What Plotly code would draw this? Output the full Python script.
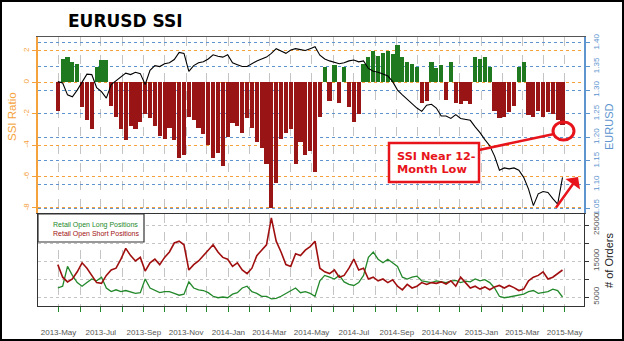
import plotly.graph_objects as go
import pandas as pd

W, H = 624, 341
def px(x): return x / W
def py(y): return 1 - y / H

# ---------------- data (weekly readings) ----------------
week_dates = pd.date_range('2013-04-30', periods=105, freq='7D')

ssi = [-1.8, 1.5, 1.6, 1.3, 1.2, -1.6, -2.4, -3.0, 1.0, 1.4,
       1.4, -1.5, -2.2, -3.0, -3.7, -2.8, -3.0, -2.5, -2.0, -2.3,
       -2.8, -3.4, -3.6, -2.9, -3.7, -4.8, -4.6, -2.2, -2.4, -2.9,
       -3.3, -4.0, -4.8, -4.5, -5.3, -3.5, -2.6, -2.8, -3.2, -2.3,
       -2.9, -3.8, -4.2, -5.2, -8.0, -6.4, -3.6, -3.2, -3.0, -5.2,
       -3.8, -4.6, -4.4, -5.7, -2.2, 1.0, -1.2, 1.1, -1.3, 1.0,
       -1.6, -2.5, -2.0, 1.2, 1.6, 2.0, 1.7, 1.9, 2.0, 1.8,
       2.4, 1.6, 1.3, 1.2, 1.0, -1.3, -1.2, 1.3, 0.9, 1.1,
       -1.1, 1.3, -1.3, -1.4, -1.2, -1.4, 1.6, 1.5, 1.6, 1.0,
       -1.8, -2.3, -2.2, -1.9, -1.5, 1.0, 1.3, -2.1, -2.2, -1.8,
       -2.2, -1.9, -2.0, -2.4, -2.7]

eurusd = [1.318, 1.315, 1.290, 1.286, 1.300, 1.318, 1.334, 1.333, 1.305, 1.297,
          1.283, 1.312, 1.320, 1.328, 1.336, 1.333, 1.338, 1.335, 1.312, 1.342,
          1.352, 1.350, 1.356, 1.358, 1.365, 1.380, 1.378, 1.340, 1.352, 1.358,
          1.360, 1.366, 1.375, 1.372, 1.370, 1.375, 1.358, 1.354, 1.350, 1.350,
          1.356, 1.362, 1.366, 1.370, 1.378, 1.388, 1.383, 1.378, 1.385, 1.388,
          1.386, 1.384, 1.388, 1.392, 1.374, 1.366, 1.362, 1.359, 1.356, 1.358,
          1.362, 1.364, 1.360, 1.362, 1.346, 1.340, 1.338, 1.334, 1.330, 1.318,
          1.300, 1.290, 1.280, 1.272, 1.262, 1.255, 1.268, 1.270, 1.262, 1.245,
          1.245, 1.240, 1.248, 1.240, 1.238, 1.236, 1.222, 1.210, 1.195, 1.182,
          1.160, 1.130, 1.135, 1.133, 1.135, 1.130, 1.115, 1.090, 1.055, 1.080,
          1.085, 1.083, 1.070, 1.058, 1.115]

short_pos = [14000, 10500, 9200, 10000, 12000, 14500, 13000, 11000, 9000, 8800,
             11000, 12500, 13000, 15500, 18500, 16500, 15000, 16000, 12200, 14500,
             15500, 14000, 16000, 17500, 20000, 20500, 19500, 12500, 14000, 15000,
             16500, 18000, 19500, 17500, 16000, 15500, 13500, 14500, 12500, 11500,
             13000, 16500, 18000, 19500, 27000, 20500, 17500, 14000, 13500, 17000,
             16500, 18000, 19000, 20500, 13000, 12000, 11500, 12500, 10500, 11000,
             13000, 15500, 12500, 13000, 10000, 10500, 9500, 10000, 9000, 9800,
             8000, 7000, 8500, 7500, 8000, 9000, 8500, 9000, 8800, 9200,
             8600, 9500, 8000, 10500, 9000, 7500, 8000, 7200, 7800, 7000,
             7800, 8200, 7500, 8200, 7600, 6800, 7200, 9500, 10500, 11000,
             12000, 10000, 10500, 11500, 12500]

long_pos = [7500, 8000, 13500, 11000, 9000, 8000, 9000, 10000, 9500, 10500,
            7500, 6500, 7000, 6500, 6800, 6500, 6000, 6200, 10000, 7500,
            6800, 6200, 6500, 6500, 6000, 5500, 5800, 9200, 7500, 7000,
            6800, 6200, 5200, 4800, 5000, 4800, 5800, 6200, 7500, 8000,
            6500, 6000, 5200, 5200, 4500, 4600, 5200, 6000, 6800, 7500,
            6200, 6500, 6000, 5200, 9500, 11000, 10500, 10000, 11000, 9200,
            8500, 8200, 9000, 11000, 16000, 17500, 15500, 14500, 15500, 14500,
            13500, 10500, 10000, 10500, 10800, 9500, 9200, 9000, 9500, 9200,
            9000, 9400, 9600, 9000, 9400, 9200, 10000, 9500, 9800, 9000,
            7500, 5200, 4800, 5000, 5300, 5600, 5800, 6500, 6800, 6000,
            6200, 6500, 7200, 6800, 5000]

ssi_ticks = [-8, -6, -4, -2, 0, 2]
eur_ticks = [1.05, 1.10, 1.15, 1.20, 1.25, 1.30, 1.35, 1.40]
order_ticks = [5000, 10000, 15000, 20000, 25000]
order_labels = ['5000', '', '15000', '', '25000']
month_ticks = pd.date_range('2013-05-01', '2015-05-01', freq='MS')
month_labels = [d.strftime('%Y-%b') if (i % 2 == 0) else '' for i, d in enumerate(month_ticks)]

# ---------------- styling ----------------
ORANGE = '#F6A23C'
BLUE = '#5E95CF'
RED_BAR = '#991414'
GREEN_BAR = '#1F7A1F'
RED_LINE = '#A00F0F'
GREEN_LINE = '#22882A'
GRID = '#C4C4C4'
XRANGE = ['2013-04-01 10:00', '2015-05-29']
XDOM = [px(38), px(584)]

fig = go.Figure()

bar_colors = [GREEN_BAR if v >= 0 else RED_BAR for v in ssi]
fig.add_trace(go.Bar(x=week_dates, y=ssi, marker_color=bar_colors,
                     marker_line_width=0, width=6.0 * 24 * 3600 * 1000,
                     xaxis='x', yaxis='y', showlegend=False))
fig.add_trace(go.Scatter(x=week_dates, y=eurusd, mode='lines',
                         line=dict(color='black', width=1.1),
                         xaxis='x', yaxis='y2', showlegend=False))
fig.add_trace(go.Scatter(x=week_dates, y=long_pos, mode='lines',
                         line=dict(color=GREEN_LINE, width=1.3),
                         xaxis='x2', yaxis='y3', showlegend=False))
fig.add_trace(go.Scatter(x=week_dates, y=short_pos, mode='lines',
                         line=dict(color=RED_LINE, width=1.6),
                         xaxis='x2', yaxis='y3', showlegend=False))

tickfont_gray = dict(family='Liberation Sans', size=8, color='#555555')

fig.update_layout(
    width=W, height=H, margin=dict(l=0, r=0, t=0, b=0),
    paper_bgcolor='white', plot_bgcolor='white', bargap=0,
    xaxis=dict(domain=XDOM, anchor='y', range=XRANGE, type='date',
               tickmode='array', tickvals=month_ticks, showticklabels=False,
               ticks='', showgrid=True, gridcolor=GRID, griddash='dash', gridwidth=1,
               showline=True, mirror=True, linecolor='#555555', linewidth=1,
               zeroline=False, automargin=False),
    yaxis=dict(domain=[py(213), py(37)], anchor='x', range=[-8.32, 2.89],
               tickmode='array', tickvals=ssi_ticks, ticktext=[str(t) for t in ssi_ticks],
               tickangle=-90, tickfont=dict(family='Liberation Sans', size=8, color=ORANGE),
               ticks='outside', ticklen=4, tickcolor=ORANGE,
               showline=True, linecolor=ORANGE, linewidth=1.5,
               showgrid=True, gridcolor=ORANGE, griddash='dot', gridwidth=1.2,
               zeroline=False, automargin=False),
    yaxis2=dict(overlaying='y', side='right', anchor='x', range=[1.0394, 1.4127],
                tickmode='array', tickvals=eur_ticks, ticktext=['%.2f' % t for t in eur_ticks],
                tickangle=-90, tickfont=dict(family='Liberation Sans', size=8, color=BLUE),
                ticks='outside', ticklen=4, tickcolor=BLUE,
                showline=True, linecolor=BLUE, linewidth=1.5,
                showgrid=True, gridcolor=BLUE, griddash='dot', gridwidth=1.2,
                zeroline=False, automargin=False),
    xaxis2=dict(domain=XDOM, anchor='y3', range=XRANGE, type='date',
                tickmode='array', tickvals=month_ticks, ticktext=month_labels,
                tickfont=tickfont_gray, tickangle=0,
                ticks='outside', ticklen=5, tickcolor=GREEN_LINE, tickwidth=1,
                ticklabelstandoff=13,
                showgrid=True, gridcolor=GRID, griddash='dash', gridwidth=1,
                showline=True, mirror=True, linecolor='#333333', linewidth=1.2,
                zeroline=False, automargin=False),
    yaxis3=dict(domain=[py(306), py(214)], anchor='x2', side='right', range=[2500, 28056],
                tickmode='array', tickvals=order_ticks, ticktext=order_labels,
                tickangle=-90, tickfont=tickfont_gray,
                ticks='outside', ticklen=4, tickcolor='#333333',
                showline=True, mirror=True, linecolor='#333333', linewidth=1.2,
                showgrid=True, gridcolor=GRID, griddash='dot', gridwidth=1,
                zeroline=False, automargin=False),
)

shapes = []
shapes.append(dict(type='rect', xref='paper', yref='paper', x0=0, x1=1, y0=0, y1=1,
                   line=dict(color='black', width=4)))
shapes.append(dict(type='rect', xref='paper', yref='paper', x0=px(38), x1=px(144),
                   y0=py(242), y1=py(214), line=dict(color='#333333', width=1.2),
                   fillcolor='white'))
shapes.append(dict(type='rect', xref='paper', yref='paper', x0=px(389), x1=px(479),
                   y0=py(182), y1=py(143), line=dict(color='#E8141B', width=2.5),
                   fillcolor='white'))
shapes.append(dict(type='line', xref='paper', yref='paper', x0=px(479), y0=py(150),
                   x1=px(554), y1=py(134), line=dict(color='#E8141B', width=2.5)))
shapes.append(dict(type='circle', xref='paper', yref='paper', x0=px(553), x1=px(574),
                   y0=py(140), y1=py(122), line=dict(color='#E8141B', width=3)))
fig.update_layout(shapes=shapes)

ann = []
ann.append(dict(text='<b>EURUSD SSI</b>', x=px(125), y=py(21), xref='paper', yref='paper',
                showarrow=False, font=dict(family='DejaVu Sans', size=17, color='black'),
                xanchor='center', yanchor='middle'))
ann.append(dict(text='SSI Ratio', x=px(12), y=py(117), xref='paper', yref='paper',
                showarrow=False, textangle=-90,
                font=dict(family='Liberation Sans', size=11.5, color=ORANGE),
                xanchor='center', yanchor='middle'))
ann.append(dict(text='EURUSD', x=px(609), y=py(127), xref='paper', yref='paper',
                showarrow=False, textangle=-90,
                font=dict(family='Liberation Sans', size=11, color=BLUE),
                xanchor='center', yanchor='middle'))
ann.append(dict(text='# of Orders', x=px(609), y=py(260), xref='paper', yref='paper',
                showarrow=False, textangle=-90,
                font=dict(family='Liberation Sans', size=11, color='#222222'),
                xanchor='center', yanchor='middle'))
ann.append(dict(text='Retail Open Long Positions', x=px(51), y=py(225), xref='paper', yref='paper',
                showarrow=False, font=dict(family='Liberation Sans', size=7, color=GREEN_LINE),
                xanchor='left', yanchor='middle'))
ann.append(dict(text='Retail Open Short Positions', x=px(51), y=py(234), xref='paper', yref='paper',
                showarrow=False, font=dict(family='Liberation Sans', size=7, color=RED_LINE),
                xanchor='left', yanchor='middle'))
ann.append(dict(text='<b>SSI Near 12-</b>', x=px(395), y=py(156), xref='paper', yref='paper',
                showarrow=False, font=dict(family='DejaVu Sans', size=11.3, color='#E8141B'),
                xanchor='left', yanchor='middle'))
ann.append(dict(text='<b>Month Low</b>', x=px(395), y=py(169), xref='paper', yref='paper',
                showarrow=False, font=dict(family='DejaVu Sans', size=11.3, color='#E8141B'),
                xanchor='left', yanchor='middle'))
ann.append(dict(text='', x=px(578), y=py(177), xref='paper', yref='paper',
                showarrow=True, ax=-23, ay=32, axref='pixel', ayref='pixel',
                arrowhead=1, arrowsize=1.2, arrowwidth=2.5, arrowcolor='#E8141B'))
fig.update_layout(annotations=ann)

fig.write_html('out.html')
